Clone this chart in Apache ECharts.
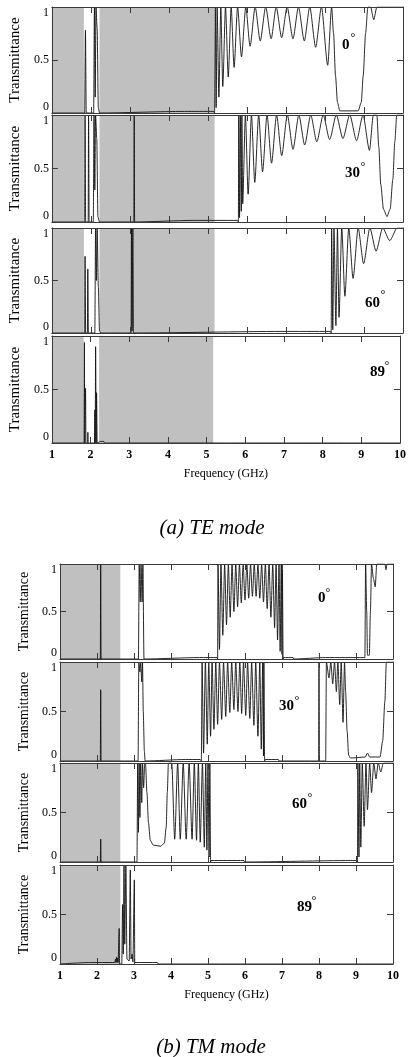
<!DOCTYPE html>
<html><head><meta charset="utf-8">
<script src="https://cdn.jsdelivr.net/npm/echarts@6/dist/echarts.min.js"></script>
<style>html,body{margin:0;padding:0;background:#fff}#c{width:409px;height:1057px}</style>
</head><body><div id="c"></div>
<script>
// ---------------- DATA (frequency GHz, transmittance) ----------------
const angles = ['0', '30', '60', '89'];
const xTicks = [1, 2, 3, 4, 5, 6, 7, 8, 9, 10];
const yTicks = [0, 0.5, 1];

// TE mode
const te0 = [[1,0],[1.84,0],[1.86,0.78],[1.88,0],[2.07,0],[2.09,1],[2.11,0.15],[2.13,1],[2.16,0.8],[2.19,0.05],[2.22,0],
  [4.4,0.015],[5.15,0.015],[5.17,0],[5.19,1],[5.21,0.05],[5.235,1],[5.28,0.15],[5.33,1],[5.38,0.25],[5.45,1],[5.52,0.34],
  [5.595,1],[5.67,0.43],[5.76,1],[5.86,0.53],[5.97,1],[6.08,0.63],[6.21,1],[6.34,0.68],[6.48,1],[6.62,0.70],[6.75,1],
  [6.89,0.71],[7.03,1],[7.18,0.70],[7.32,1],[7.47,0.68],[7.61,1],[7.76,0.62],[7.91,1],[8.07,0.45],[8.17,1],[8.22,0.75],
  [8.27,0.35],[8.32,0.1],[8.38,0.02],[8.85,0.02],[8.93,0.1],[8.98,0.35],[9.04,0.75],[9.10,1],[9.17,1],[9.25,0.88],[9.33,1],[10,1]];
const te30 = [[1,0],[1.84,0],[1.85,1],[1.865,0],[1.93,0],[1.94,1],[1.955,0],[2.06,0],[2.08,1],[2.10,0.3],[2.12,1],[2.15,0.78],
  [2.18,0.05],[2.22,0],[3.10,0],[3.11,1],[3.12,0],[4.65,0.015],[5.76,0.015],[5.78,0],[5.79,1],[5.81,0.04],[5.83,1],[5.855,0.1],
  [5.87,1],[5.89,0.17],[5.96,1],[6.03,0.26],[6.115,1],[6.20,0.37],[6.30,1],[6.40,0.47],[6.515,1],[6.63,0.55],[6.76,1],
  [6.89,0.62],[7.035,1],[7.18,0.68],[7.33,1],[7.48,0.72],[7.635,1],[7.79,0.75],[7.955,1],[8.12,0.77],[8.29,1],[8.46,0.78],
  [8.635,1],[8.81,0.76],[8.975,1],[9.14,0.67],[9.24,1],[9.33,1],[9.38,0.7],[9.43,0.35],[9.50,0.12],[9.59,0.05],[9.67,0.12],
  [9.74,0.4],[9.79,0.75],[9.84,1],[10,1]];
const te60 = [[1,0],[1.84,0],[1.85,0.73],[1.865,0],[1.91,0],[1.92,0.61],[1.935,0],[2.10,0],[2.12,1],[2.14,0.5],[2.16,1],
  [2.19,0.45],[2.22,0.02],[2.26,0],[3.03,0],[3.04,1],[3.055,0.02],[3.075,1],[3.09,0],[6.9,0.015],[8.14,0.015],[8.16,0],
  [8.17,1],[8.2,0.03],[8.23,1],[8.28,0.07],[8.32,1],[8.36,0.15],[8.43,1],[8.51,0.35],[8.61,1],[8.72,0.52],[8.85,1],
  [8.99,0.66],[9.15,1],[9.31,0.78],[9.48,1],[9.66,0.88],[9.85,1],[10,1]];
const te89 = [[1,0],[1.83,0],[1.84,0.94],[1.85,0],[1.86,0],[1.87,0.51],[1.88,0],[1.92,0],[1.93,0.1],[1.94,0],[2.10,0],
  [2.11,0.31],[2.12,0],[2.13,0.9],[2.145,0],[2.155,0.47],[2.17,0],[2.26,0.015],[2.34,0.015],[2.36,0],[10,0]];

// TM mode
const tm0 = [[1,0],[2.09,0],[2.10,1],[2.11,0],[3.12,0],[3.14,1],[3.17,0.6],[3.19,1],[3.22,0.6],[3.24,1],[3.27,0],
  [4.77,0.015],[5.25,0.015],[5.26,0],[5.27,1],[5.31,0.10],[5.35,1],[5.40,0.25],[5.45,1],[5.50,0.36],[5.55,1],[5.60,0.44],
  [5.65,1],[5.70,0.50],[5.75,1],[5.80,0.55],[5.85,1],[5.90,0.59],[5.95,1],[6.00,0.62],[6.05,1],[6.10,0.64],[6.15,1],
  [6.20,0.66],[6.25,1],[6.30,0.66],[6.35,1],[6.40,0.64],[6.45,1],[6.50,0.60],[6.55,1],[6.60,0.53],[6.65,1],[6.70,0.44],
  [6.75,1],[6.80,0.33],[6.84,1],[6.88,0.20],[6.92,1],[6.95,0.08],[6.98,1],[7.0,0.05],[7.01,1],[7.03,0],[7.04,0.015],
  [7.3,0.015],[7.32,0],[8.18,0.015],[9.24,0.015],[9.26,1],[9.29,0.5],[9.31,0.04],[9.36,0.04],[9.39,0.5],[9.42,1],
  [9.47,0.85],[9.52,0.76],[9.56,1],[9.78,1],[9.81,0.94],[9.84,1],[10,1]];
const tm30 = [[1,0],[2.09,0],[2.10,0.72],[2.11,0],[3.11,0],[3.13,1],[3.16,0.9],[3.18,1],[3.21,0.8],[3.23,1],[3.25,0.5],
  [3.28,0.1],[3.30,0],[4.39,0.015],[4.79,0.015],[4.82,0],[4.84,1],[4.88,0.08],[4.93,1],[4.98,0.17],[5.02,1],[5.07,0.25],
  [5.11,1],[5.16,0.32],[5.21,1],[5.26,0.37],[5.31,1],[5.37,0.42],[5.42,1],[5.48,0.45],[5.53,1],[5.59,0.49],[5.64,1],
  [5.70,0.52],[5.75,1],[5.81,0.50],[5.86,1],[5.91,0.48],[5.96,1],[6.02,0.46],[6.07,1],[6.13,0.43],[6.18,1],[6.24,0.36],
  [6.29,1],[6.35,0.25],[6.40,1],[6.44,0.12],[6.48,1],[6.50,0.05],[6.51,1],[6.53,0],[6.55,0.015],[6.9,0.015],[6.92,0],
  [7.99,0],[8.0,1],[8.01,0],[8.18,0],[8.20,1],[8.27,0.84],[8.32,1],[8.37,0.78],[8.42,1],[8.47,0.70],[8.51,1],[8.56,0.57],
  [8.60,1],[8.65,0.39],[8.69,1],[8.72,0.7],[8.76,0.3],[8.80,0.06],[8.85,0.03],[9.25,0.04],[9.31,0.08],[9.37,0.04],
  [9.65,0.04],[9.72,0.2],[9.78,0.6],[9.82,1],[10,1]];
const tm60 = [[1,0],[2.09,0],[2.10,0.23],[2.11,0],[3.08,0],[3.10,1],[3.12,0.3],[3.14,1],[3.16,0.45],[3.18,1],[3.21,0.6],
  [3.23,1],[3.26,0.75],[3.29,1],[3.31,1],[3.35,0.7],[3.39,0.4],[3.44,0.22],[3.52,0.17],[3.72,0.16],[3.82,0.19],[3.87,0.35],
  [3.90,0.7],[3.93,1],[4.02,1],[4.10,0.23],[4.18,1],[4.25,0.23],[4.33,1],[4.41,0.23],[4.49,1],[4.57,0.23],[4.63,1],
  [4.69,0.22],[4.74,1],[4.79,0.2],[4.85,1],[4.90,0.15],[4.94,1],[4.97,0.12],[5.00,1],[5.03,0.05],[5.05,1],[5.07,0],
  [5.08,0.015],[5.97,0.015],[5.99,0],[8.86,0.015],[9.03,0.015],[9.04,0],[9.05,1],[9.08,0.05],[9.10,1],[9.13,0.15],
  [9.17,1],[9.22,0.36],[9.27,1],[9.31,0.53],[9.37,1],[9.42,0.70],[9.48,1],[9.54,0.84],[9.60,1],[9.67,0.91],[9.74,1],[10,1]];
const tm89 = [[1,0],[1.82,0.015],[2.48,0.015],[2.50,0.05],[2.51,0.015],[2.53,0.07],[2.54,0.015],[2.56,0.06],[2.57,0.015],
  [2.60,0.36],[2.61,0],[2.67,0],[2.69,0.6],[2.71,0.1],[2.73,1],[2.75,0.2],[2.78,1],[2.81,0.05],[2.87,0.03],[2.90,0.95],
  [2.92,0.05],[2.95,0.1],[2.97,0.02],[3.01,0.85],[3.02,0.015],[3.63,0.015],[3.65,0],[10,0]];

// shaded (band-gap) frequency ranges
const teShade = [[1, 1.82], [2.22, 5.17]];
const tmShade = [[1, 2.63]];

// ---------------- LAYOUT ----------------
const FONT = '"Liberation Serif","Times New Roman",serif';
const FRAME = '#3a3a3a';
const panels = [
  { data: te0, shade: teShade, left: 50, right: 6, top: 7, height: 106, last: false },
  { data: te30, shade: teShade, left: 50, right: 6, top: 115, height: 107, last: false },
  { data: te60, shade: teShade, left: 50, right: 6, top: 228, height: 105, last: false },
  { data: te89, shade: teShade, left: 50, right: 6, top: 336, height: 107, last: true, nameGap: 25 },
  { data: tm0, shade: tmShade, left: 60, right: 16, top: 564, height: 95, last: false },
  { data: tm30, shade: tmShade, left: 60, right: 16, top: 662, height: 99, last: false },
  { data: tm60, shade: tmShade, left: 60, right: 16, top: 763, height: 99, last: false },
  { data: tm89, shade: tmShade, left: 60, right: 16, top: 865, height: 99, last: true, nameGap: 25 }
];
// angle label placement: [numberLeft, numberCenterY, degreeCenterX, degreeCenterY]
const angleLabelPos = [
  [342, 45, 353, 35], [345, 173, 363, 164], [365, 303, 383, 292], [370, 372, 387, 363],
  [318, 598, 328, 590], [279, 706, 297, 698], [292, 804, 310, 795], [297, 907, 314, 898]
];

const grids = [], xAxes = [], yAxes = [], series = [], graphics = [];
panels.forEach((p, i) => {
  grids.push({ left: p.left, right: p.right, top: p.top, height: p.height, containLabel: false });
  const common = { gridIndex: i, type: 'value', min: xTicks[0], max: xTicks[xTicks.length - 1], interval: 1, z: 5,
    axisLine: { show: true, onZero: false, lineStyle: { color: FRAME, width: 1 } },
    axisTick: { show: true, inside: true, length: 6, lineStyle: { color: FRAME } },
    splitLine: { show: false } };
  xAxes.push(Object.assign({}, common, { position: 'bottom',
    axisLabel: { show: p.last, color: '#000', fontFamily: FONT, fontSize: 12, fontWeight: 'bold', margin: 6 },
    name: p.last ? 'Frequency (GHz)' : '', nameLocation: 'middle', nameGap: p.nameGap || 20,
    nameTextStyle: { fontFamily: FONT, fontSize: 12, color: '#000' } }));
  xAxes.push(Object.assign({}, common, { position: 'top', axisLabel: { show: false } }));
  const ycommon = { gridIndex: i, type: 'value', min: yTicks[0], max: yTicks[yTicks.length - 1], interval: 0.5, z: 5,
    axisLine: { show: true, onZero: false, lineStyle: { color: FRAME, width: 1 } },
    axisTick: { show: true, inside: true, length: 6, lineStyle: { color: FRAME } },
    splitLine: { show: false } };
  yAxes.push(Object.assign({}, ycommon, { position: 'left',
    axisLabel: { show: true, color: '#000', fontFamily: FONT, fontSize: 12, margin: 3,
      verticalAlignMaxLabel: 'top', verticalAlignMinLabel: 'bottom' },
    name: 'Transmittance', nameLocation: 'middle', nameRotate: 90, nameGap: i < 4 ? 28 : 27,
    nameTextStyle: { fontFamily: FONT, fontSize: i < 4 ? 15 : 14, color: '#000' } }));
  yAxes.push(Object.assign({}, ycommon, { position: 'right', axisLabel: { show: false } }));

  series.push({ type: 'line', xAxisIndex: 2 * i, yAxisIndex: 2 * i, data: [], z: 1, silent: true,
    markArea: { silent: true, itemStyle: { color: '#c0c0c0' },
      data: p.shade.map(s => [{ xAxis: s[0] }, { xAxis: s[1] }]) } });
  series.push({ type: 'line', xAxisIndex: 2 * i, yAxisIndex: 2 * i, data: p.data, z: 2, symbol: 'none',
    showSymbol: false, clip: true, smooth: 0.25, smoothMonotone: 'x',
    lineStyle: { color: '#111', width: 0.9 }, silent: true });

  const a = angleLabelPos[i];
  graphics.push({ type: 'text', x: a[0], y: a[1], z: 10,
    style: { text: angles[i % 4], font: 'bold 15px ' + FONT, fill: '#000', textAlign: 'left', textVerticalAlign: 'middle' } });
  graphics.push({ type: 'text', x: a[2], y: a[3] + 3, z: 10,
    style: { text: '°', font: '12px ' + FONT, fill: '#000', textAlign: 'center', textVerticalAlign: 'middle' } });
});
graphics.push({ type: 'text', x: 212, y: 528, style: { text: '(a) TE mode', font: 'italic 21px ' + FONT, fill: '#000', textAlign: 'center', textVerticalAlign: 'middle' } });
graphics.push({ type: 'text', x: 211, y: 1047, style: { text: '(b) TM mode', font: 'italic 21px ' + FONT, fill: '#000', textAlign: 'center', textVerticalAlign: 'middle' } });

const chart = echarts.init(document.getElementById('c'), null, { renderer: 'canvas' });
chart.setOption({ animation: false, backgroundColor: '#fff', grid: grids, xAxis: xAxes, yAxis: yAxes, series: series, graphic: graphics });
</script></body></html>
